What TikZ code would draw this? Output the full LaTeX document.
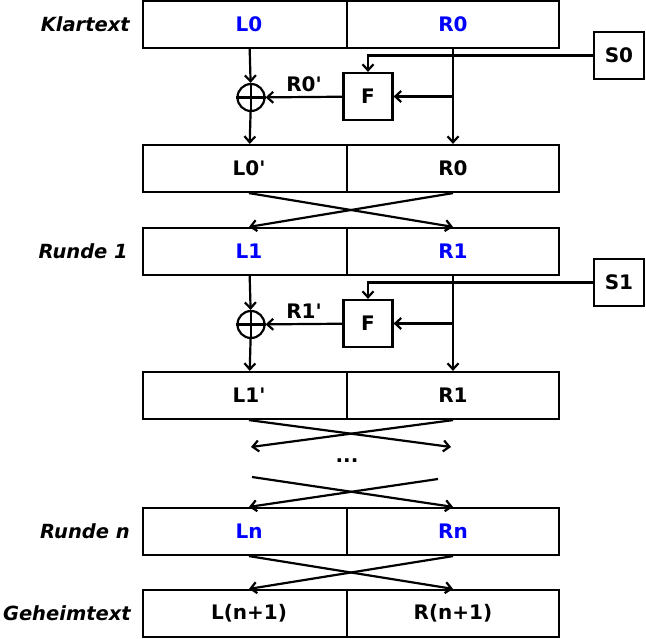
\documentclass[tikz,border=0pt]{standalone}
\usepackage{fontspec}
\setmainfont{DejaVu Sans}
\usetikzlibrary{arrows.meta,positioning}

\begin{document}
\begin{tikzpicture}[x=1pt,y=-1pt,>={Straight Barb[length=6pt,width=11pt]},line width=2.2pt,
  font=\fontsize{20}{24}\selectfont\bfseries]

\tikzset{
  blk/.style={draw,minimum width=212pt,minimum height=47pt,inner sep=0pt},
  rblk/.style={blk,fill=white},
  fbox/.style={draw,minimum width=49pt,minimum height=47pt,inner sep=0pt},
  sbox/.style={draw,minimum width=50pt,minimum height=47pt,inner sep=0pt},
  xorc/.style={draw,circle,minimum size=27pt,inner sep=0pt},
  pf/.style={->},
  lbl/.style={anchor=east,inner sep=0pt,font=\fontsize{19.5}{24}\selectfont\bfseries\itshape}
}

\useasboundingbox (0,0) rectangle (646,639);

% ---- runden 0 und 1 ----
\foreach \r/\yo in {0/0,1/227}{
  \node[blk,text=blue] (L\r) at (249,24.5+\yo) {L\r};
  \node[rblk,text=blue] (R\r) at (453,24.5+\yo) {R\r};
  \node[sbox] (S\r) at (619,55.5+\yo) {S\r};
  \node[fbox] (F\r) at (368,96.5+\yo) {F};
  \node[xorc] (X\r) at (251,97.5+\yo) {};
  \draw (X\r.north) -- (X\r.south) (X\r.west) -- (X\r.east);
  \node[blk] (Lp\r) at (249,168.5+\yo) {L\r\textquotesingle};
  \node[rblk] (Rp\r) at (453,168.5+\yo) {R\r};
  \coordinate (t\r) at (R\r.south |- F\r.east);
  % pfeile
  \draw[pf] (L\r) -- (X\r);
  \draw[pf] (X\r) -- (Lp\r);
  \draw[pf] (F\r) -- (X\r) node[midway,above=1pt] {R\r\textquotesingle};
  \draw[pf] (R\r) -- (Rp\r);
  \draw[pf] (t\r) -- (F\r);
  \draw[pf] (S\r.west) -| (F\r.north);
}

% ---- kreuzung runde 0 -> 1 ----
\draw[pf] (Lp0.south) -- (R1.north);
\draw[pf] (Rp0.south) -- (L1.north);

% ---- ... ----
\coordinate (a1) at (251,447);
\coordinate (a2) at (451,447);
\coordinate (b1) at (252,477);
\coordinate (b2) at (438,479);
\draw[pf] (Lp1.south) -- (a2);
\draw[pf] (Rp1.south) -- (a1);
\node (dots) at (347,461) {...};

% ---- runde n ----
\node[blk,text=blue] (Ln) at (249,531.5) {Ln};
\node[rblk,text=blue] (Rn) at (453,531.5) {Rn};
\draw[pf] (b1) -- (Rn.north);
\draw[pf] (b2) -- (Ln.north);

% ---- geheimtext ----
\node[blk] (Lz) at (249,613.5) {L(n+1)};
\node[rblk] (Rz) at (453,613.5) {R(n+1)};
\draw[pf] (Ln.south) -- (Rz.north);
\draw[pf] (Rn.south) -- (Lz.north);

% ---- beschriftung ----
\node[lbl,left=11pt of L0.west] (kt) {Klartext};
\node[lbl,left=13pt of L1.west] (r1) {Runde 1};
\node[lbl,left=11pt of Ln.west] (rn) {Runde n};
\node[lbl,left=10pt of Lz.west] (gt) {Geheimtext};

\end{tikzpicture}
\end{document}
